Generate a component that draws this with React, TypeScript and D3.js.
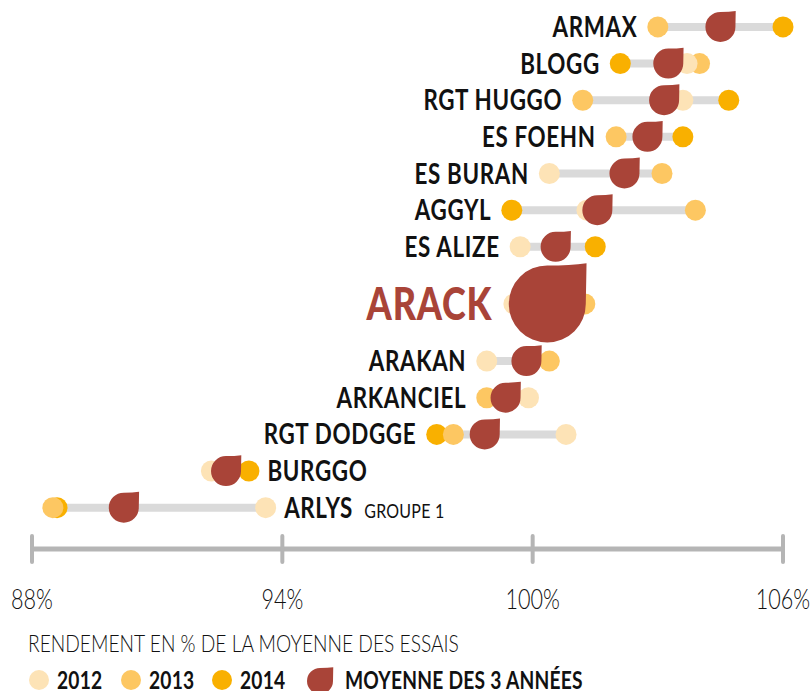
import React, { useEffect, useRef } from "react";
import * as d3 from "d3";

// varieties, top to bottom
const varieties = [
  "ARMAX",
  "BLOGG",
  "RGT HUGGO",
  "ES FOEHN",
  "ES BURAN",
  "AGGYL",
  "ES ALIZE",
  "ARACK",
  "ARAKAN",
  "ARKANCIEL",
  "RGT DODGGE",
  "BURGGO",
  "ARLYS",
];

// rendement en % de la moyenne des essais
const y2012 = [104.5, 103.7, 103.6, 102.7, 100.4, 101.3, 99.7, 99.55, 98.9, 99.9, 100.8, 92.3, 93.6];
const y2013 = [103.0, 104.0, 101.2, 102.0, 103.1, 103.9, 100.6, 101.25, 100.4, 98.9, 98.1, 92.7, 88.5];
const y2014 = [106.0, 102.1, 104.7, 103.6, 102.3, 99.5, 101.5, 100.2, 99.9, 99.3, 97.7, 93.2, 88.6];
const mean3 = [104.5, 103.25, 103.15, 102.75, 102.2, 101.55, 100.55, 100.35, 99.85, 99.35, 98.85, 92.65, 90.2];

const highlight = "ARACK";
const labelRight = ["BURGGO", "ARLYS"];
const subLabels: Record<string, string> = { ARLYS: "GROUPE 1" };

const ticks = [88, 94, 100, 106];
const legendItems = ["2012", "2013", "2014", "MOYENNE DES 3 ANNÉES"];

const colors = {
  y2012: "#fde3b6",
  y2013: "#fdc762",
  y2014: "#f9b000",
  mean: "#a94438",
  line: "#dadada",
  axis: "#b5b5b5",
};

const font = "Lato, 'DejaVu Sans', sans-serif";
const squeeze = 0.8; // condensed look

const dropPath = (cx: number, cy: number, r: number) => {
  const tx = cx + r * 1.02;
  const ty = cy - r * 1.06;
  return `M${tx},${ty} Q${cx + r * 1.01},${cy - r * 0.5} ${cx + r},${cy} A${r},${r} 0 1 1 ${cx},${cy - r} Q${cx + r * 0.6},${cy - r} ${tx},${ty} Z`;
};

const App = () => {
  const ref = useRef<SVGSVGElement | null>(null);

  useEffect(() => {
    const svg = d3.select(ref.current);
    svg.selectAll("*").remove();

    const addText = (parent: any, px: number, py: number, anchor = "start") =>
      parent
        .append("text")
        .attr("transform", `translate(${px},${py}) scale(${squeeze},1)`)
        .attr("text-anchor", anchor)
        .style("font-family", font)
        .style("fill", "#111");

    const x = d3.scaleLinear().domain([88, 106]).range([32, 783]);

    // rows: the highlighted variety takes more room
    const weights = varieties.map((v) => (v === highlight ? 2.12 : 1));
    const total = d3.sum(weights);
    const y = d3.scaleLinear().domain([0, total]).range([8.6, 526]);
    let acc = 0;
    const rowY = weights.map((w) => {
      const c = y(acc + w / 2);
      acc += w;
      return c;
    });

    const dotR = 10.5;

    varieties.forEach((name, i) => {
      const cy = rowY[i];
      const vals = [y2012[i], y2013[i], y2014[i]];
      const lo = d3.min(vals) as number;
      const hi = d3.max(vals) as number;
      const isHi = name === highlight;
      const dropR = isHi ? 38.5 : 15;

      const g = svg.append("g");

      g.append("line")
        .attr("x1", x(lo))
        .attr("x2", x(hi))
        .attr("y1", cy)
        .attr("y2", cy)
        .attr("stroke", colors.line)
        .attr("stroke-width", 8);

      [
        [y2014[i], colors.y2014],
        [y2013[i], colors.y2013],
        [y2012[i], colors.y2012],
      ].forEach(([v, c]) => {
        g.append("circle")
          .attr("cx", x(v as number))
          .attr("cy", cy)
          .attr("r", dotR)
          .attr("fill", c as string);
      });

      g.append("path")
        .attr("d", dropPath(x(mean3[i]), cy, dropR))
        .attr("fill", colors.mean);

      if (labelRight.includes(name)) {
        const t = addText(g, x(hi) + dotR + 8, cy)
          .attr("dy", "0.36em")
          .style("font-size", "28px")
          .style("font-weight", "bold")
          .style("letter-spacing", "0.8px")
          .text(name);
        if (subLabels[name]) {
          t.append("tspan")
            .attr("dx", 14)
            .style("font-size", "20px")
            .style("font-weight", "normal")
            .style("letter-spacing", "0.3px")
            .text(subLabels[name]);
        }
      } else {
        const left = Math.min(x(lo) - dotR, x(mean3[i]) - dropR);
        addText(g, left - (isHi ? 11 : 10), cy, "end")
          .attr("dy", "0.36em")
          .style("font-size", isHi ? "45px" : "28px")
          .style("font-weight", isHi ? "900" : "bold")
          .style("letter-spacing", isHi ? "1px" : "0.8px")
          .style("fill", isHi ? colors.mean : "#111")
          .text(name);
      }
    });

    // axis
    const axisY = 549;
    svg
      .append("line")
      .attr("x1", x(88))
      .attr("x2", x(106))
      .attr("y1", axisY)
      .attr("y2", axisY)
      .attr("stroke", colors.axis)
      .attr("stroke-width", 5);

    ticks.forEach((t) => {
      svg
        .append("line")
        .attr("x1", x(t))
        .attr("x2", x(t))
        .attr("y1", axisY - 13)
        .attr("y2", axisY + 13)
        .attr("stroke", colors.axis)
        .attr("stroke-width", 4)
        .attr("stroke-linecap", "round");
      addText(svg, x(t), 609, "middle")
        .style("font-size", "27px")
        .style("font-weight", "300")
        .text(`${t}%`);
    });

    // legend
    addText(svg, 28, 652)
      .style("font-size", "24px")
      .style("font-weight", "300")
      .text("RENDEMENT EN % DE LA MOYENNE DES ESSAIS");

    const legendY = 680;
    const legendX = [39, 131, 222, 320];
    const legendColors = [colors.y2012, colors.y2013, colors.y2014];
    legendItems.forEach((label, i) => {
      if (i < 3) {
        svg
          .append("circle")
          .attr("cx", legendX[i])
          .attr("cy", legendY)
          .attr("r", 10)
          .attr("fill", legendColors[i]);
      } else {
        svg
          .append("path")
          .attr("d", dropPath(legendX[i], legendY + 1, 13))
          .attr("fill", colors.mean);
      }
      addText(svg, legendX[i] + (i < 3 ? 18 : 25), legendY)
        .attr("dy", "0.36em")
        .style("font-size", "24px")
        .style("font-weight", "bold")
        .style("letter-spacing", "0.3px")
        .text(label);
    });
  }, []);

  return (
    <svg
      ref={ref}
      width={811}
      height={691}
      style={{ position: "absolute", left: 0, top: 0, background: "#fff" }}
    />
  );
};

export default App;
